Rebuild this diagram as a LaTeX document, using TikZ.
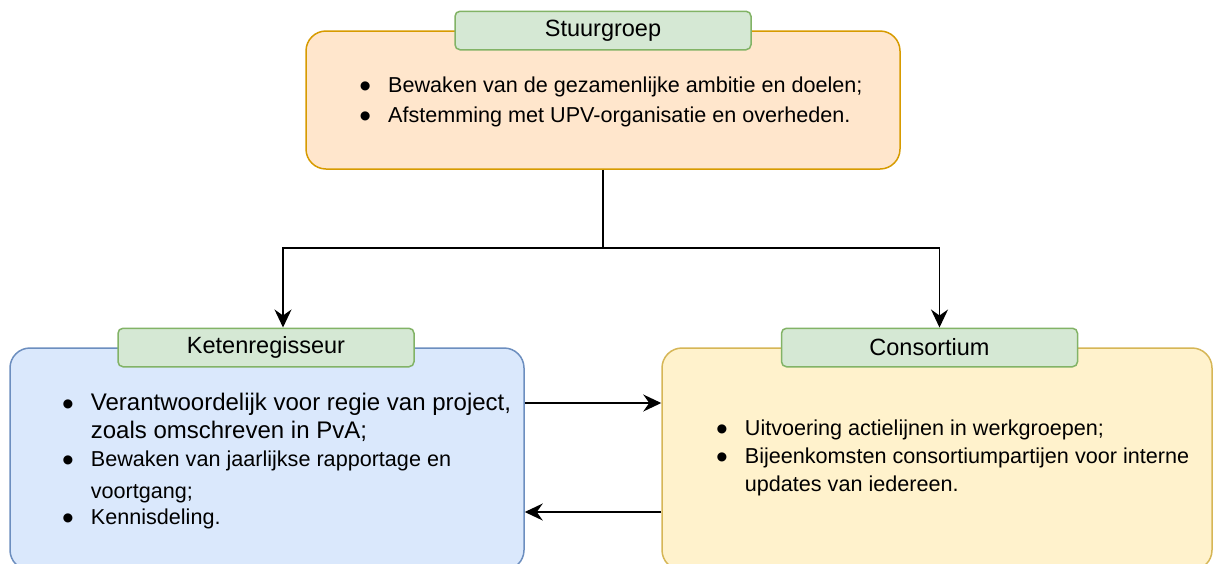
\documentclass[tikz,border=0pt]{standalone}
\usepackage{graphicx}
\usepackage{fontspec}
\setmainfont{Liberation Sans}
\usetikzlibrary{arrows.meta,calc}

\definecolor{kopVul}{HTML}{D5E8D4}
\definecolor{kopRand}{HTML}{82B366}
\definecolor{stuurVul}{HTML}{FFE6CC}
\definecolor{stuurRand}{HTML}{D79B00}
\definecolor{ketenVul}{HTML}{DAE8FC}
\definecolor{ketenRand}{HTML}{6C8EBF}
\definecolor{consVul}{HTML}{FFF2CC}
\definecolor{consRand}{HTML}{D6B656}

\newcommand{\punt}{\makebox[0pt][c]{\smash{\raisebox{-5pt}{\scalebox{1.55}{\fontsize{21.6}{26}\selectfont\textbullet}}}}\hspace{23pt}}
\newcommand{\inspring}{\hspace{23pt}}

\begin{document}
\begin{tikzpicture}[x=1pt,y=-1pt,
    vak/.style={line width=1.5pt, rounded corners=20pt, inner sep=0pt},
    kop/.style={draw=kopRand, fill=kopVul, line width=1.5pt, rounded corners=5pt,
      minimum width=296pt, minimum height=38.5pt, inner sep=0pt,
      font=\fontsize{23.5}{28}\selectfont},
    lijst/.style={anchor=base west, inner sep=0pt},
    lijn/.style={line width=1.5pt},
    pijl/.style={lijn, -{Stealth[length=18pt,width=17pt,inset=6pt]}}]
    \useasboundingbox (0,0) rectangle (1214,563);
    \fill[white] (0,0) rectangle (1214,563);

    % vakken
    \node[vak, draw=stuurRand, fill=stuurVul, minimum width=594pt, minimum height=138pt] (stuur) at (603,100) {};
    \node[vak, draw=ketenRand, fill=ketenVul, minimum width=514pt, minimum height=222pt] (keten) at (267,459) {};
    \node[vak, draw=consRand, fill=consVul, minimum width=550pt, minimum height=222pt] (cons) at (937,459) {};

    % koppen
    \node[kop] (stuurkop) at (603,30.5) {Stuurgroep};
    \node[kop] (ketenkop) at (266,347.5) {Ketenregisseur};
    \node[kop] (conskop) at (929.5,347.5) {Consortium};

    % teksten
    \node[lijst] (stuurtekst) at (365,92.3) {\fontsize{21.6}{30}\selectfont
      \begin{tabular}[t]{@{}l@{}}
        \punt Bewaken van de gezamenlijke ambitie en doelen;\\
        \punt Afstemming met UPV-organisatie en overheden.
      \end{tabular}};
    \node[lijst] (ketentekst) at (67.7,410) {\fontsize{21.6}{28.3}\selectfont
      \begin{tabular}[t]{@{}l@{}}
        {\fontsize{24}{28.3}\selectfont\punt Verantwoordelijk voor regie van project,}\\
        {\fontsize{24}{28.3}\selectfont\inspring zoals omschreven in PvA;}\\
        \punt Bewaken van jaarlijkse rapportage en\\[3.3pt]
        \inspring voortgang;\\[-1.6pt]
        \punt Kennisdeling.
      \end{tabular}};
    \node[lijst] (constekst) at (721.7,435) {\fontsize{21.6}{28.3}\selectfont
      \begin{tabular}[t]{@{}l@{}}
        \punt Uitvoering actielijnen in werkgroepen;\\
        \punt Bijeenkomsten consortiumpartijen voor interne\\
        \inspring updates van iedereen.
      \end{tabular}};

    % verbindingen
    \coordinate (splits) at (603,248);
    \draw[lijn] (stuur.south) -- (splits);
    \draw[pijl] (splits) -| ($(ketenkop.north)+(17,0)$); % links omlaag
    \draw[pijl] (splits) -| ($(conskop.north)+(10,0)$); % rechts omlaag
    \draw[pijl] (keten.east |- 0,403) -- (cons.west |- 0,403);
    \draw[pijl] (cons.west |- 0,512) -- (keten.east |- 0,512);
\end{tikzpicture}
\end{document}
